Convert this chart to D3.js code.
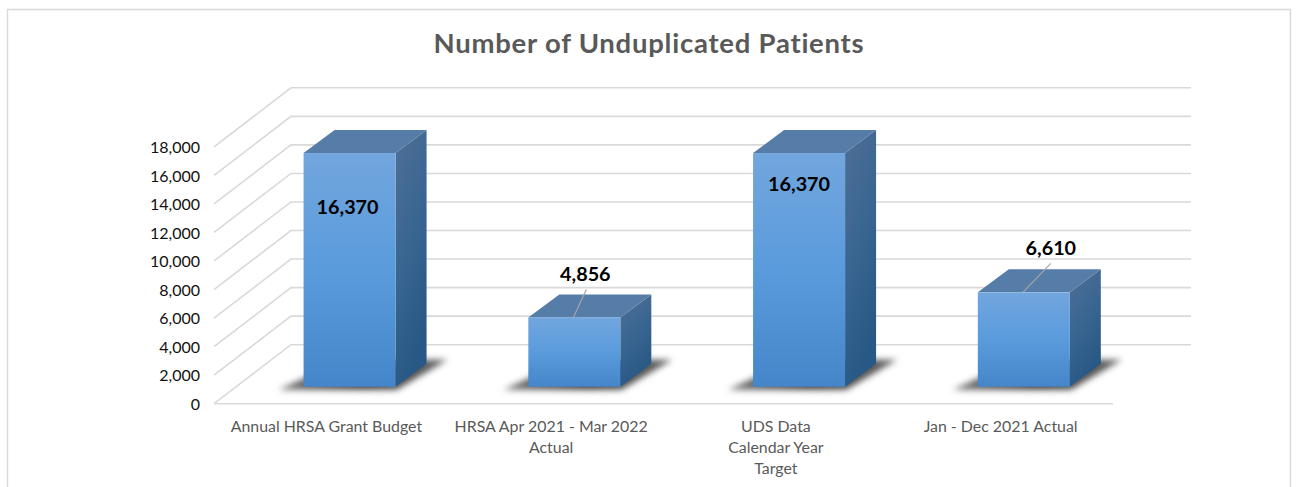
<!DOCTYPE html>
<html>
<head>
<meta charset="utf-8">
<script src="https://cdn.jsdelivr.net/npm/d3@7"></script>
<style>
    html, body { margin: 0; padding: 0; background: #fff; overflow: hidden; }
    text { font-family: Lato, "Open Sans", sans-serif; }
</style>
</head>
<body>
<div class="canvas"></div>
<script>
//chart data
const categories = ['Annual HRSA Grant Budget', 'HRSA Apr 2021 - Mar 2022 Actual', 'UDS Data Calendar Year Target', 'Jan - Dec 2021 Actual'];
const categoryLines = [['Annual HRSA Grant Budget'], ['HRSA Apr 2021 - Mar 2022', 'Actual'], ['UDS Data', 'Calendar Year', 'Target'], ['Jan - Dec 2021 Actual']];
const patients = [16370, 4856, 16370, 6610];
const yTicks = [0, 2000, 4000, 6000, 8000, 10000, 12000, 14000, 16000, 18000];
const title = 'Number of Unduplicated Patients';

//chart dimensions
const dims = { width: 1297, height: 487 };
const plot = { left: 214, right: 1113, bottom: 403.7, top: 146.8 };
const wall = { dx: 77, dy: -59, right: 1191 }; //back wall offset from front axis
const bar = { width: 92, dx: 31, dy: -23, floorDx: 23.2, floorDy: -17 };

//label offsets from the top centre of each bar's front face, and leader lines
const labelPlace = [
    { dx: -2, dy: 54 },
    { dx: 11, dy: -43 },
    { dx: 0, dy: 31 },
    { dx: 27, dy: -44 }
];
const leaders = [null, { x1: -1, y1: 0, x2: 12, y2: -28 }, null, { x1: -1, y1: 0, x2: 27, y2: -29 }];

const svg = d3.select('.canvas')
    .append('svg')
    .attr('width', dims.width)
    .attr('height', dims.height);

//gradients and shadow blur
const defs = svg.append('defs');

const addGradient = (id, x2, y2, stops) => {
    const grad = defs.append('linearGradient')
        .attr('id', id)
        .attr('x1', 0).attr('y1', 0)
        .attr('x2', x2).attr('y2', y2);
    stops.forEach((c, i) => grad.append('stop')
        .attr('offset', i / (stops.length - 1))
        .attr('stop-color', c));
};

addGradient('frontFill', 0, 1, ['#72a6de', '#5a9bdc', '#4486c9']);
addGradient('sideFill', 0.35, 1, ['#4f6f95', '#3a6692', '#285885']);
addGradient('shadowFill', 1, 0, ['#777', '#3a3a3a', '#666']);

defs.append('filter')
    .attr('id', 'blur')
    .attr('x', '-20%').attr('y', '-40%')
    .attr('width', '140%').attr('height', '180%')
    .append('feGaussianBlur')
    .attr('stdDeviation', 3.4);

//chart frame, runs off the bottom of the picture
svg.append('path')
    .attr('d', `M7.5,${dims.height} V9.5 H1290.5 V${dims.height}`)
    .attr('fill', 'none')
    .attr('stroke', '#d9d9d9')
    .attr('stroke-width', 1.4);

//title
svg.append('text')
    .attr('x', 649)
    .attr('y', 53)
    .attr('text-anchor', 'middle')
    .attr('font-size', 27.5)
    .attr('font-weight', 700)
    .attr('letter-spacing', 0.75)
    .attr('fill', '#595959')
    .text(title);

//scales
const x = d3.scaleBand()
    .domain(categories)
    .range([plot.left, plot.right]);

const y = d3.scaleLinear()
    .domain([0, 18000])
    .range([plot.bottom, plot.top]);

//gridlines: along the floor side, then across the back wall
svg.append('g')
    .selectAll('path')
    .data(yTicks)
    .enter()
    .append('path')
        .attr('d', d => `M${plot.left},${y(d)} L${plot.left + wall.dx},${y(d) + wall.dy} H${wall.right}`)
        .attr('fill', 'none')
        .attr('stroke', '#d9d9d9')
        .attr('stroke-width', 1.6);

svg.append('line')
    .attr('x1', plot.left).attr('x2', plot.right)
    .attr('y1', y(0)).attr('y2', y(0))
    .attr('stroke', '#d9d9d9')
    .attr('stroke-width', 1.6);

//axes
const yAxis = d3.axisLeft(y)
    .tickValues(yTicks)
    .tickFormat(d3.format(','))
    .tickSize(0)
    .tickPadding(14);

const yGroup = svg.append('g')
    .attr('transform', `translate(${plot.left}, 0)`)
    .call(yAxis);
yGroup.select('.domain').remove();
yGroup.selectAll('text')
    .attr('font-size', 16)
    .attr('fill', '#111')
    .attr('dy', '0.36em')
    .style('font-family', 'Lato');

const xAxis = d3.axisBottom(x).tickSize(0).tickPadding(0);

const xGroup = svg.append('g')
    .attr('transform', `translate(0, ${plot.bottom})`)
    .call(xAxis);
xGroup.select('.domain').remove();
xGroup.selectAll('text')
    .text('')
    .attr('y', 0)
    .attr('dy', 0)
    .attr('fill', '#595959')
    .attr('font-size', 15.9)
    .style('font-family', 'Lato')
    .each(function(d, i) {
        d3.select(this).selectAll('tspan')
            .data(categoryLines[i])
            .enter()
            .append('tspan')
                .attr('x', 0)
                .attr('y', (l, j) => 28 + j * 21)
                .text(l => l);
    });

//bars, each one a shadow plus three faces
const bars = svg.append('g')
    .selectAll('g')
    .data(patients)
    .enter()
    .append('g')
        .attr('transform', (d, i) => `translate(${x(categories[i]) + x.bandwidth() / 2 + bar.floorDx - bar.width / 2}, ${y(0) + bar.floorDy})`);

const h = d => y(0) - y(d);

bars.append('path')
    .attr('d', `M-25,3 L${bar.width + 1},3 L${bar.width + 52},-27 L${bar.dx + 10},-27 Z`)
    .attr('fill', 'url(#shadowFill)')
    .attr('filter', 'url(#blur)');

bars.append('path')
    .attr('d', d => `M${bar.width},0 V${-h(d)} l${bar.dx},${bar.dy} V${bar.dy} Z`)
    .attr('fill', 'url(#sideFill)');

bars.append('path')
    .attr('d', d => `M0,${-h(d)} l${bar.dx},${bar.dy} h${bar.width} l${-bar.dx},${-bar.dy} Z`)
    .attr('fill', '#567ca8');

bars.append('rect')
    .attr('x', 0)
    .attr('y', d => -h(d))
    .attr('width', bar.width)
    .attr('height', h)
    .attr('fill', 'url(#frontFill)');

//leader lines
bars.filter((d, i) => leaders[i])
    .append('line')
        .attr('x1', d => bar.width / 2 + leaders[patients.indexOf(d)].x1)
        .attr('y1', d => -h(d) + leaders[patients.indexOf(d)].y1)
        .attr('x2', d => bar.width / 2 + leaders[patients.indexOf(d)].x2)
        .attr('y2', d => -h(d) + leaders[patients.indexOf(d)].y2)
        .attr('stroke', '#a6a6a6')
        .attr('stroke-width', 1.2);

//data labels
bars.append('text')
    .attr('x', (d, i) => bar.width / 2 + labelPlace[i].dx)
    .attr('y', (d, i) => -h(d) + labelPlace[i].dy + 7)
    .attr('text-anchor', 'middle')
    .attr('font-size', 19.8)
    .attr('font-weight', 700)
    .attr('fill', '#000')
    .text(d3.format(','));
</script>
</body>
</html>
